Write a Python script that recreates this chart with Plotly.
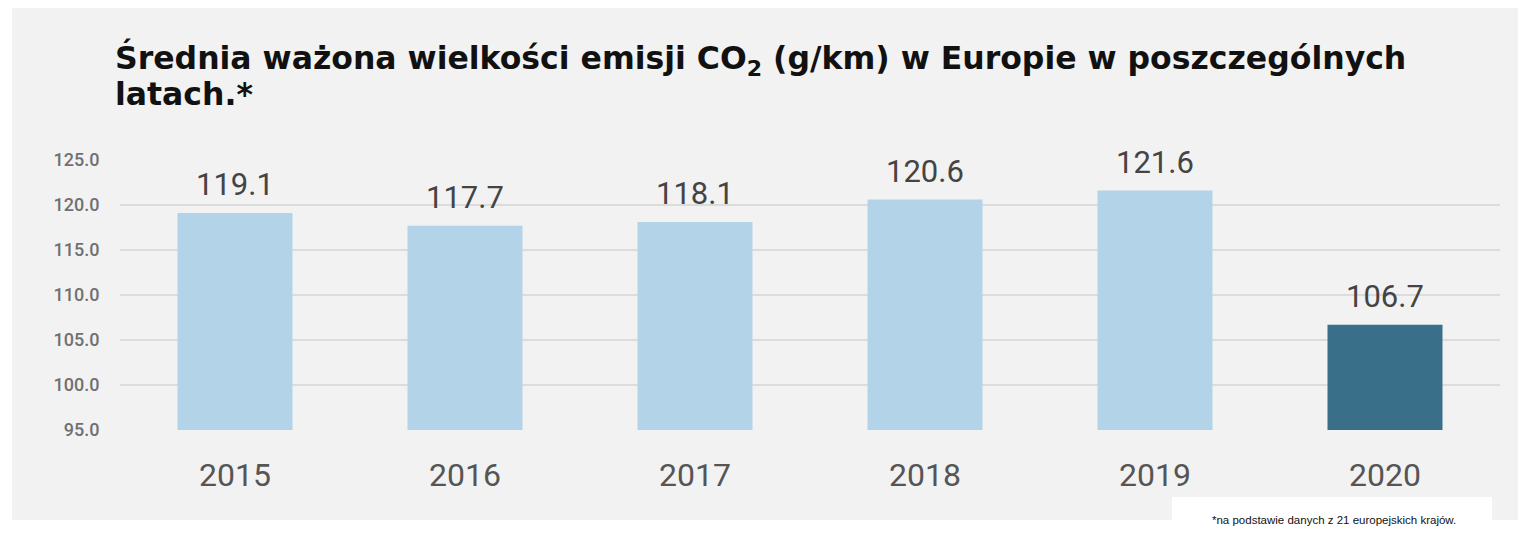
import plotly.graph_objects as go

# values
years = ["2015", "2016", "2017", "2018", "2019", "2020"]
emissions = [119.1, 117.7, 118.1, 120.6, 121.6, 106.7]
bar_colors = ["#b3d4e8"] * 5 + ["#3a6f8a"]
y_ticks = [95, 100, 105, 110, 115, 120, 125]

title_line1 = "Średnia ważona wielkości emisji CO<sub>2</sub> (g/km) w Europie w poszczególnych"
title_line2 = "latach.*"
footnote = "*na podstawie danych z 21 europejskich krajów."

# the page puts the figure 8px in from the top-left corner
OFF = 8
W, H = 1536 - OFF, 545 - OFF
ML, MR, MT, MB = 120 - OFF, 36, 160 - OFF, 115
pw = W - ML - MR
ph = H - MT - MB


def px_x(p):
    # reference-picture pixel -> paper coordinate
    return (p - OFF - ML) / pw


def px_y(p):
    return (H - MB - (p - OFF)) / ph


fig = go.Figure()
fig.add_trace(go.Bar(
    x=years,
    y=emissions,
    marker=dict(color=bar_colors, line=dict(width=0)),
    hoverinfo="x+y",
))

# value labels above bars (x given as category index so it is not read as a number)
for i, v in enumerate(emissions):
    fig.add_annotation(
        x=i, y=v, text=f"{v:.1f}", showarrow=False,
        yanchor="bottom", yshift=8,
        font=dict(family="Roboto", size=31, color="#444444"),
    )

# grey panel behind the chart
fig.add_shape(
    type="rect", xref="paper", yref="paper", layer="below",
    x0=px_x(12), x1=px_x(1518), y0=px_y(520), y1=px_y(8),
    fillcolor="#f2f2f2", line=dict(width=0),
)
# white box for the footnote
fig.add_shape(
    type="rect", xref="paper", yref="paper", layer="below",
    x0=px_x(1172), x1=px_x(1492), y0=px_y(530), y1=px_y(497),
    fillcolor="#ffffff", line=dict(width=0),
)

title_font = dict(family="DejaVu Sans", size=31.5, color="#111111")
fig.add_annotation(
    xref="paper", yref="paper", x=px_x(113), y=px_y(60),
    xanchor="left", yanchor="middle", showarrow=False,
    text=f"<b>{title_line1}</b>", font=title_font,
)
fig.add_annotation(
    xref="paper", yref="paper", x=px_x(113), y=px_y(94),
    xanchor="left", yanchor="middle", showarrow=False,
    text=f"<b>{title_line2}</b>", font=title_font,
)
fig.add_annotation(
    xref="paper", yref="paper", x=px_x(1334), y=px_y(520),
    xanchor="center", yanchor="middle", showarrow=False, text=footnote,
    font=dict(family="Liberation Sans", size=11.5, color="#111111"),
)

fig.update_layout(
    width=W, height=H,
    margin=dict(l=ML, r=MR, t=MT, b=MB, pad=0),
    paper_bgcolor="#ffffff",
    plot_bgcolor="rgba(0,0,0,0)",
    bargap=0.5,
    showlegend=False,
    xaxis=dict(
        type="category", categoryorder="array", categoryarray=years,
        range=[-0.5, len(years) - 0.5], automargin=False,
        showgrid=False, zeroline=False, showline=False,
        ticks="outside", ticklen=17, tickcolor="rgba(0,0,0,0)",
        tickfont=dict(family="Roboto", size=32, color="#555555"),
    ),
    yaxis=dict(
        range=[95, 125], tickvals=y_ticks, automargin=False,
        ticktext=[f"{t:.1f}" for t in y_ticks],
        showgrid=True, gridcolor="#dcdcdc", gridwidth=2,
        zeroline=False, showline=False,
        ticks="outside", ticklen=16, tickcolor="rgba(0,0,0,0)",
        tickfont=dict(family="Roboto", size=18, color="#707070", weight=500),
    ),
)

fig.write_html("out.html")
